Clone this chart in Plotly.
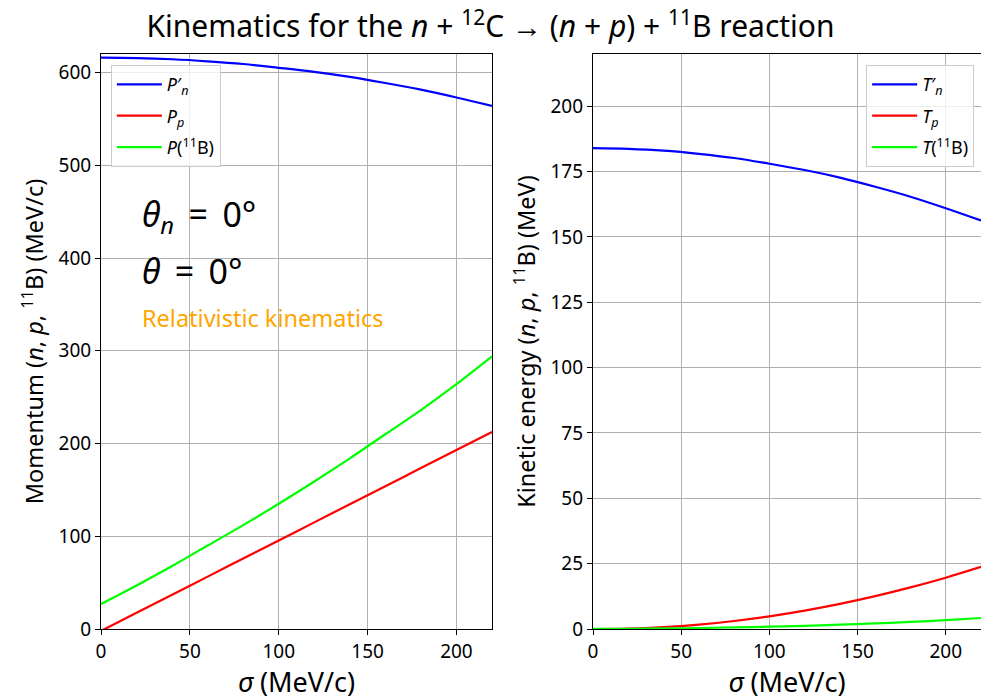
import plotly.graph_objects as go
from plotly.subplots import make_subplots

sigma = [0, 20, 40, 60, 80, 100, 120, 140, 160, 180, 200, 220]
P_n = [616.1, 615.6, 614.3, 612.1, 609.2, 605.1, 600.7, 595.3, 588.7, 581.5, 573.1, 564.0]
P_p = [-2, 17.5, 37, 56.5, 76, 95.5, 115, 134.5, 154, 173.5, 193, 212.5]
P_B = [27, 47, 68, 90, 112, 135, 159, 184, 210, 236, 264, 294]
T_n = [184.0, 183.7, 183.0, 181.8, 180.2, 178.0, 175.6, 172.7, 169.2, 165.4, 161.0, 156.3]
T_p = [0.002, 0.16, 0.73, 1.70, 3.07, 4.85, 7.02, 9.59, 12.56, 15.91, 19.63, 23.76]
T_B = [0.036, 0.108, 0.226, 0.395, 0.612, 0.889, 1.233, 1.651, 2.151, 2.716, 3.399, 4.215]

FONT = "Noto Sans"
fig = make_subplots(rows=1, cols=2)

lw = 2.2
specs = [
    (P_n, "#0000ff", "<i>P</i>′<sub><i>n</i></sub>", "legend", 1, "a"),
    (P_p, "#ff0000", "<i>P</i><sub><i>p</i></sub>", "legend", 1, "b"),
    (P_B, "#00ff00", "<i>P</i>(<sup>11</sup>B)", "legend", 1, "c"),
    (T_n, "#0000ff", "<i>T</i>′<sub><i>n</i></sub>", "legend2", 2, "d"),
    (T_p, "#ff0000", "<i>T</i><sub><i>p</i></sub>", "legend2", 2, "e"),
    (T_B, "#00ff00", "<i>T</i>(<sup>11</sup>B)", "legend2", 2, "f"),
]
for ys, col, name, leg, c, grp in specs:
    fig.add_trace(go.Scatter(x=sigma, y=ys, mode="lines",
                             line=dict(color=col, width=lw, shape="spline"),
                             name=name, legend=leg, legendgroup=grp), row=1, col=c)

axis_common = dict(showline=True, mirror=True, linecolor="black", linewidth=1.2,
                   ticks="outside", ticklen=5, tickcolor="black", tickwidth=1.2,
                   showgrid=True, gridcolor="#b0b0b0", gridwidth=1, zeroline=False,
                   automargin=False,
                   tickfont=dict(family=FONT, size=19, color="black"))

fig.update_xaxes(**axis_common, range=[0, 220], tickvals=[0, 50, 100, 150, 200],
                 title=dict(text="<i>σ</i> (MeV/c)", font=dict(family=FONT, size=27, color="black"), standoff=2))
fig.update_xaxes(domain=[0.103, 0.5015], row=1, col=1)
fig.update_xaxes(domain=[0.6045, 1.0], row=1, col=2)
fig.update_yaxes(**axis_common, domain=[0.1014, 0.9229])
fig.update_yaxes(range=[0, 620], tickvals=[0, 100, 200, 300, 400, 500, 600], row=1, col=1,
                 title=dict(text="Momentum (<i>n</i>, <i>p</i>, <sup>11</sup>B) (MeV/c)",
                            font=dict(family=FONT, size=23.5, color="black"), standoff=8))
fig.update_yaxes(range=[0, 220], tickvals=[0, 25, 50, 75, 100, 125, 150, 175, 200], row=1, col=2,
                 title=dict(text="Kinetic energy (<i>n</i>, <i>p</i>, <sup>11</sup>B) (MeV)",
                            font=dict(family=FONT, size=23.5, color="black"), standoff=8))

leg_style = dict(bgcolor="rgba(255,255,255,0.8)", bordercolor="#cccccc", borderwidth=1,
                 font=dict(family=FONT, size=18, color="black"), yanchor="top",
                 tracegroupgap=5, itemwidth=45)
fig.update_layout(
    legend=dict(x=0.113, y=0.907, xanchor="left", **leg_style),
    legend2=dict(x=0.993, y=0.907, xanchor="right", **leg_style),
)

sp = "\u00a0\u2009"
fig.add_annotation(x=22, y=445, xref="x", yref="y", xanchor="left", yanchor="middle", showarrow=False,
                   text=f"<i>θ</i><sub><i>n</i></sub>{sp}={sp}0°", font=dict(family=FONT, size=34, color="black"))
fig.add_annotation(x=22, y=386, xref="x", yref="y", xanchor="left", yanchor="middle", showarrow=False,
                   text=f"<i>θ</i>{sp}={sp}0°", font=dict(family=FONT, size=34, color="black"))
fig.add_annotation(x=22, y=335, xref="x", yref="y", xanchor="left", yanchor="middle", showarrow=False,
                   text="Relativistic kinematics", font=dict(family=FONT, size=23.5, color="orange"))

fig.update_layout(
    width=981, height=700,
    margin=dict(l=0, r=0, t=0, b=0),
    paper_bgcolor="white", plot_bgcolor="white",
    title=dict(text="Kinematics for the <i>n</i> + <sup>12</sup>C → (<i>n</i> + <i>p</i>) + <sup>11</sup>B reaction",
               x=0.5, xanchor="center", y=0.962, yanchor="middle",
               font=dict(family=FONT, size=30, color="black")),
)

fig.write_html("out.html")
